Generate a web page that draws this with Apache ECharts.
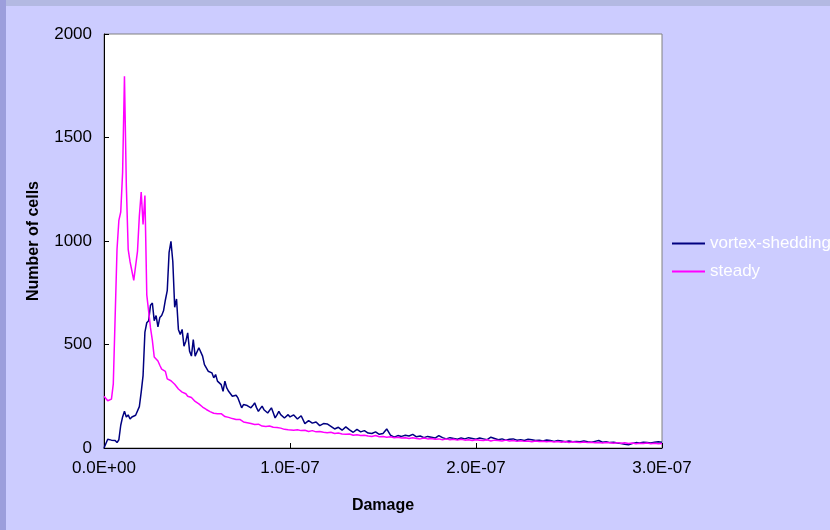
<!DOCTYPE html>
<html>
<head>
<meta charset="utf-8">
<script src="https://cdn.jsdelivr.net/npm/echarts@6/dist/echarts.min.js"></script>
<style>
  html, body { margin: 0; padding: 0; background: #CCCCFF; }
  #chart { width: 830px; height: 530px; }
</style>
</head>
<body>
<div id="chart"></div>
<script>
// Histogram of fatigue damage per cell: 1E-9 bins up to 1.0E-07, 2E-9 bins beyond.
const damage = [];
for (let i = 0; i <= 100; i++) damage.push(i * 1e-9);
for (let i = 102; i <= 300; i += 2) damage.push(i * 1e-9);

const vortexShedding = [
  0, 5, 42, 50, 38, 30, 36, 26, 40, 110,
  150, 178, 150, 160, 140, 150, 142, 158, 152, 200,
  270, 350, 560, 605, 615, 690, 700, 615, 640, 585,
  630, 640, 663, 715, 760, 945, 998, 900, 680, 720,
  573, 548, 573, 492, 516, 556, 468, 444, 524, 444,
  450, 484, 484, 444, 403, 400, 371, 379, 363, 339,
  355, 323, 331, 306, 274, 323, 290, 274, 266, 250,
  242, 255, 242, 234, 194, 210, 218, 205, 210, 194,
  205, 218, 195, 177, 190, 202, 185, 194, 169, 175,
  194, 170, 145, 160, 177, 161, 155, 145, 150, 161,
  150,
  160, 140, 156, 118, 132, 120, 126, 108, 118, 116,
  104, 92, 100, 86, 102, 88, 76, 90, 78, 84,
  72, 70, 78, 66, 70, 92, 62, 52, 60, 56,
  62, 58, 66, 54, 58, 50, 56, 52, 48, 60,
  50, 44, 50, 46, 42, 48, 44, 50, 46, 42,
  48, 44, 40, 52, 46, 40, 44, 38, 42, 44,
  38, 40, 36, 42, 40, 36, 38, 34, 39, 36,
  32, 36, 34, 30, 34, 30, 32, 30, 34, 30,
  28, 32, 36, 28, 30, 26, 28, 24, 22, 18,
  16, 22, 26, 24, 28, 26, 24, 28, 30, 28
];

const steady = [
  250, 252, 228, 232, 236, 310, 318, 960, 1100, 1140,
  1330, 1796, 1270, 960, 900, 855, 810, 815, 950, 1120,
  1236, 1080, 1220, 740, 660, 580, 520, 440, 436, 420,
  400, 381, 375, 370, 334, 336, 325, 318, 308, 300,
  285, 276, 270, 268, 262, 250, 255, 244, 238, 225,
  220, 213, 205, 198, 190, 186, 179, 176, 172, 168,
  163, 165, 160, 166, 158, 152, 155, 148, 150, 142,
  146, 138, 134, 138, 130, 126, 130, 122, 124, 118,
  121, 114, 110, 115, 108, 106, 110, 104, 102, 106,
  99, 100, 96, 99, 94, 96, 92, 90, 94, 88,
  90,
  86, 88, 84, 86, 80, 84, 78, 80, 76, 74,
  76, 70, 72, 68, 66, 68, 62, 64, 60, 62,
  58, 56, 60, 54, 56, 52, 54, 50, 52, 48,
  50, 46, 50, 46, 44, 48, 44, 46, 42, 44,
  40, 44, 40, 42, 38, 42, 38, 40, 36, 40,
  38, 36, 40, 34, 38, 36, 34, 38, 34, 36,
  32, 35, 32, 34, 30, 34, 31, 33, 30, 32,
  29, 31, 28, 31, 27, 30, 28, 26, 29, 26,
  28, 25, 27, 24, 26, 25, 23, 26, 23, 25,
  22, 24, 21, 23, 22, 24, 21, 23, 20, 22
];

const seriesNames = ['vortex-shedding', 'steady'];
const seriesColors = ['#000080', '#FF00FF'];
const yTicks = { min: 0, max: 2000, interval: 500 };
const xTicks = { min: 0, max: 3e-7, interval: 1e-7 };

function sci(v) {
  if (Math.abs(v) < 1e-15) return '0.0E+00';
  const parts = v.toExponential(1).split('e');
  const exp = parseInt(parts[1], 10);
  const sign = exp < 0 ? '-' : '+';
  const mag = String(Math.abs(exp)).padStart(2, '0');
  return parts[0] + 'E' + sign + mag;
}

const pair = (ys) => ys.map((y, i) => [damage[i], y]);
const FONT = '"Liberation Sans", Arial, sans-serif';

const chart = echarts.init(document.getElementById('chart'), null, { renderer: 'canvas' });
chart.setOption({
  backgroundColor: '#CCCCFF',
  animation: false,
  textStyle: { fontFamily: FONT },
  graphic: [
    { type: 'rect', left: 0, top: 0, shape: { width: 830, height: 6 }, style: { fill: '#B3B9E2' }, z: -10 },
    { type: 'rect', left: 0, top: 0, shape: { width: 6, height: 530 }, style: { fill: '#9C9EDC' }, z: -10 }
  ],
  grid: {
    left: 104, top: 34, width: 558, height: 414,
    show: true, backgroundColor: '#FFFFFF', borderColor: '#808080', borderWidth: 1
  },
  legend: {
    orient: 'vertical',
    left: 672, top: 234, padding: 0,
    icon: 'rect',
    itemWidth: 33, itemHeight: 2, itemGap: 9,
    textStyle: { color: '#FFFFFF', fontSize: 17, fontFamily: FONT, lineHeight: 19 },
    data: seriesNames.map((n, k) => ({ name: n, itemStyle: { color: seriesColors[k] } }))
  },
  xAxis: {
    type: 'value',
    min: xTicks.min, max: xTicks.max, interval: xTicks.interval,
    name: 'Damage', nameLocation: 'middle', nameGap: 50,
    nameTextStyle: { fontWeight: 'bold', fontSize: 16, color: '#000' },
    axisLine: { lineStyle: { color: '#000', width: 1 } },
    axisTick: { inside: true, length: 5, lineStyle: { color: '#000' } },
    axisLabel: { color: '#000', fontSize: 17, margin: 12, formatter: sci },
    splitLine: { show: false }
  },
  yAxis: {
    type: 'value',
    min: yTicks.min, max: yTicks.max, interval: yTicks.interval,
    name: 'Number of cells', nameLocation: 'middle', nameGap: 62,
    nameTextStyle: { fontWeight: 'bold', fontSize: 16, color: '#000' },
    axisLine: { show: true, lineStyle: { color: '#000', width: 1 } },
    axisTick: { show: true, inside: true, length: 5, lineStyle: { color: '#000' } },
    axisLabel: { color: '#000', fontSize: 17, margin: 12, formatter: (v) => String(v) },
    splitLine: { show: false }
  },
  series: [
    {
      name: seriesNames[0], type: 'line', symbol: 'none',
      lineStyle: { color: seriesColors[0], width: 1.5 }, itemStyle: { color: seriesColors[0] },
      data: pair(vortexShedding)
    },
    {
      name: seriesNames[1], type: 'line', symbol: 'none',
      lineStyle: { color: seriesColors[1], width: 1.5 }, itemStyle: { color: seriesColors[1] },
      data: pair(steady)
    }
  ]
});
</script>
</body>
</html>
